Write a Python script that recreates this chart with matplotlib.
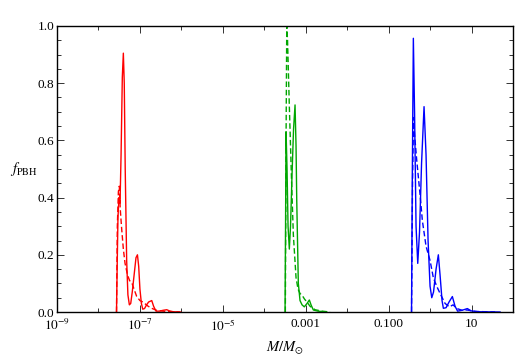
import numpy as np
import matplotlib
matplotlib.use("Agg")
import matplotlib.pyplot as plt
from matplotlib.ticker import FixedLocator, FixedFormatter

plt.rcParams['mathtext.fontset'] = 'stix'
plt.rcParams['font.family'] = ['Liberation Serif', 'DejaVu Serif']

# log10(M/Msun) and f_PBH values
red_solid_logm = [-7.565, -7.550, -7.530, -7.505, -7.480, -7.455, -7.425, -7.400, -7.378, -7.355,
                  -7.320, -7.290, -7.255, -7.222, -7.185, -7.140, -7.095, -7.060, -7.030, -7.000,
                  -6.965, -6.932, -6.890, -6.840, -6.790, -6.715, -6.670, -6.612, -6.530, -6.440,
                  -6.353, -6.290, -6.200, -6.050]
red_solid_f = [0.0, 0.15, 0.33, 0.40, 0.38, 0.55, 0.82, 0.905, 0.80, 0.50,
               0.18, 0.06, 0.025, 0.03, 0.07, 0.13, 0.19, 0.20, 0.16, 0.08,
               0.03, 0.01, 0.012, 0.025, 0.035, 0.04, 0.02, 0.003, 0.003, 0.006,
               0.008, 0.004, 0.001, 0.0]
red_dash_logm = [-7.565, -7.545, -7.520, -7.497, -7.475, -7.440, -7.400, -7.359, -7.300, -7.250,
                 -7.190, -7.142, -7.080, -7.000, -6.930, -6.870, -6.800, -6.700, -6.600, -6.450,
                 -6.250, -6.000]
red_dash_f = [0.0, 0.30, 0.42, 0.44, 0.36, 0.29, 0.22, 0.17, 0.13, 0.11,
              0.10, 0.08, 0.055, 0.04, 0.035, 0.028, 0.02, 0.012, 0.006, 0.003,
              0.001, 0.0]

green_solid_logm = [-3.499, -3.487, -3.475, -3.451, -3.427, -3.396, -3.367, -3.331, -3.294, -3.258,
                    -3.234, -3.217, -3.179, -3.138, -3.089, -3.034, -2.969, -2.913, -2.872, -2.817,
                    -2.703, -2.494]
green_solid_f = [0.0, 0.30, 0.63, 0.50, 0.30, 0.22, 0.30, 0.48, 0.64, 0.724,
                 0.58, 0.39, 0.10, 0.04, 0.025, 0.018, 0.03, 0.042, 0.025, 0.007,
                 0.003, 0.0]
green_dash_logm = [-3.492, -3.475, -3.458, -3.439, -3.396, -3.338, -3.299, -3.234, -3.186, -3.138,
                   -3.072, -3.029, -2.976, -2.896, -2.776, -2.607, -2.414]
green_dash_f = [0.0, 0.60, 1.0, 0.95, 0.72, 0.44, 0.27, 0.12, 0.08, 0.065,
                0.055, 0.045, 0.036, 0.02, 0.008, 0.003, 0.0]

blue_solid_logm = [-0.448, -0.428, -0.404, -0.375, -0.339, -0.298, -0.255, -0.206, -0.146, -0.098,
                   -0.049, -0.001, 0.040, 0.083, 0.144, 0.199, 0.240, 0.288, 0.320, 0.385,
                   0.457, 0.537, 0.602, 0.663, 0.771, 0.899, 0.988, 1.157, 1.688]
blue_solid_f = [0.0, 0.50, 0.957, 0.70, 0.30, 0.17, 0.28, 0.52, 0.718, 0.55,
                0.25, 0.09, 0.05, 0.07, 0.15, 0.20, 0.13, 0.04, 0.013, 0.015,
                0.035, 0.054, 0.02, 0.003, 0.006, 0.012, 0.004, 0.001, 0.0]
blue_dash_logm = [-0.448, -0.424, -0.399, -0.375, -0.322, -0.242, -0.187, -0.098, -0.001, 0.078,
                  0.160, 0.240, 0.361, 0.465, 0.554, 0.650, 0.771, 0.892, 1.085, 1.567]
blue_dash_f = [0.0, 0.45, 0.68, 0.62, 0.53, 0.41, 0.32, 0.23, 0.18, 0.12,
               0.09, 0.065, 0.03, 0.018, 0.025, 0.012, 0.006, 0.007, 0.002, 0.0]

xtick_vals = [1e-9, 1e-7, 1e-5, 1e-3, 1e-1, 1e1]
xtick_labels = [r'$10^{-9}$', r'$10^{-7}$', r'$10^{-5}$', '0.001', '0.100', '10']
xminor_vals = [1e-8, 1e-6, 1e-4, 1e-2, 1e0, 1e2]

fig = plt.figure(figsize=(5.28, 3.59), dpi=100)
ax = fig.add_axes([0.108, 0.1309, 0.8636, 0.7967])

lw = 1.0
series = [
    (red_solid_logm, red_solid_f, red_dash_logm, red_dash_f, '#ff0000'),
    (green_solid_logm, green_solid_f, green_dash_logm, green_dash_f, '#00a600'),
    (blue_solid_logm, blue_solid_f, blue_dash_logm, blue_dash_f, '#0000ff'),
]
for sl, sf, dl, df, c in series:
    ax.plot(10 ** np.array(sl), sf, color=c, lw=lw, solid_joinstyle='round')
    ax.plot(10 ** np.array(dl), df, color=c, lw=lw, ls=(0, (4, 2)))

ax.set_xscale('log')
ax.set_xlim(1e-9, 1e2)
ax.set_ylim(0, 1.0)

ax.xaxis.set_major_locator(FixedLocator(xtick_vals))
ax.xaxis.set_major_formatter(FixedFormatter(xtick_labels))
ax.xaxis.set_minor_locator(FixedLocator(xminor_vals))
ax.xaxis.set_minor_formatter(FixedFormatter([''] * len(xminor_vals)))
ax.set_yticks([0.0, 0.2, 0.4, 0.6, 0.8, 1.0])
ax.set_yticklabels(['0.0', '0.2', '0.4', '0.6', '0.8', '1.0'])
ax.set_yticks(np.arange(0, 1.0001, 0.05), minor=True)

ax.tick_params(which='both', direction='in', top=True, right=True, labelsize=9.5,
               width=0.7, colors='#333333', labelcolor='black')
ax.tick_params(axis='x', pad=4.5)
ax.tick_params(axis='y', pad=2)
ax.tick_params(which='major', length=5)
ax.tick_params(which='minor', length=3)
for s in ax.spines.values():
    s.set_linewidth(1.0)

ax.set_xlabel(r'$M/M_{\odot}$', fontsize=10.5, labelpad=4)
ax.set_ylabel(r'$f_{\rm PBH}$', fontsize=10.5, rotation=0, labelpad=10, va='center')

fig.savefig('out.png', dpi=100)
